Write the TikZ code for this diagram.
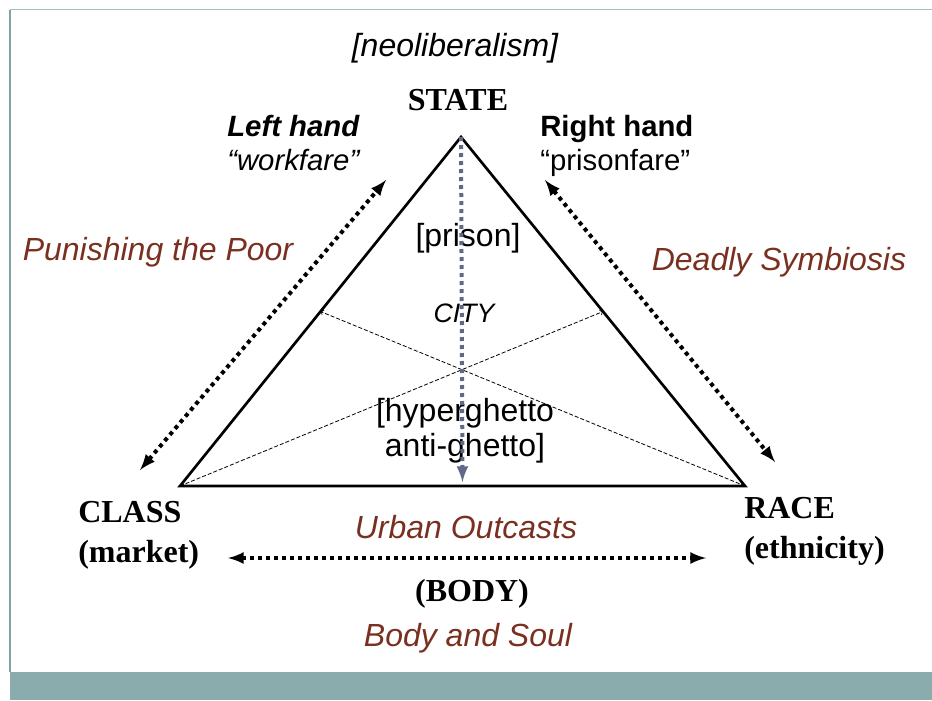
\documentclass[tikz,border=0pt]{standalone}
\usepackage{fontspec}
\setmainfont{Liberation Sans}
\newfontfamily\timesfont{Liberation Serif}
\usetikzlibrary{arrows}

\definecolor{slidebar}{RGB}{138,172,172}
\definecolor{slideline}{RGB}{125,163,166}
\definecolor{bookbrown}{RGB}{122,48,32}
\definecolor{cityblue}{RGB}{98,104,138}

\tikzset{
  vertex/.style={font=\timesfont\bfseries\fontsize{24}{30}\selectfont, align=left, inner sep=0pt},
  book/.style={font=\fontsize{24}{29}\selectfont\itshape, text=bookbrown, inner sep=0pt},
  hand/.style={font=\fontsize{22}{25.5}\selectfont, align=left, inner sep=0pt},
  place/.style={font=\fontsize{24}{26}\selectfont, align=center, inner sep=0pt},
  link/.style={latex-latex, line width=3pt, dash pattern=on 3pt off 3pt},
  cross/.style={->, line width=0.6pt, dash pattern=on 3pt off 1.5pt},
}

\begin{document}
\begin{tikzpicture}[x=0.75pt, y=-0.75pt]
  \useasboundingbox (0,0) rectangle (932,700);
  % slide frame
  \fill[slidebar] (10,672) rectangle (932,700);
  \draw[slideline!70, line width=1pt] (10,9.5) -- (932,9.5);
  \draw[slideline, line width=1pt] (10,9.5) -- (10,672);

  \coordinate (apex) at (461,137);
  \coordinate (lbase) at (180,486);
  \coordinate (rbase) at (745,486);

  \node[font=\fontsize{24}{29}\selectfont\itshape, inner sep=0pt] (neolib) at (455,48) {[neoliberalism]};
  \node[vertex] (state) at (458,100) {STATE};
  \node[hand, anchor=base west] (lefthand) at (227,170) {\textbf{\itshape Left hand}\\ \itshape “workfare”};
  \node[hand, anchor=base west] (righthand) at (540,170) {\textbf{Right hand}\\ “prisonfare”};
  \node[book] (poor) at (158,252) {Punishing the Poor};
  \node[book] (symbiosis) at (779,262) {Deadly Symbiosis};
  \node[place] (prison) at (468,238) {[prison]};
  \node[font=\fontsize{20}{24}\selectfont\itshape, inner sep=0pt] (city) at (464,313) {CITY};
  \node[place] (ghetto) at (465,431) {[hyperghetto\\ anti-ghetto]};
  \node[vertex, anchor=base west] (class) at (78,562) {CLASS\\ (market)};
  \node[vertex, anchor=base west] (race) at (744,558) {RACE\\ (ethnicity)};
  \node[book] (outcasts) at (466,527) {Urban Outcasts};
  \node[vertex] (body) at (472,594) {(BODY)};
  \node[book] (soul) at (468,638) {Body and Soul};

  \draw[line width=2pt, line join=miter]
    (apex) -- coordinate[pos=0.5] (lmid) (lbase)
           -- coordinate[pos=0.5] (bmid) (rbase)
           -- coordinate[pos=0.5] (rmid) cycle;
  \draw[cross] (lbase) -- (rmid);
  \draw[cross] (rbase) -- (lmid);
  \draw[cityblue, -latex, line width=3pt, dash pattern=on 3pt off 3pt, shorten >=3pt] (apex) -- (bmid);

  \coordinate (workA) at (140,470);
  \coordinate (workB) at (386,180);
  \coordinate (prisA) at (545,180);
  \coordinate (prisB) at (775,462);
  \coordinate (bodyA) at (228,558);
  \coordinate (bodyB) at (706,558);
  \draw[link] (workA) -- (workB);
  \draw[link] (prisA) -- (prisB);
  \draw[link] (bodyA) -- (bodyB);
\end{tikzpicture}
\end{document}
